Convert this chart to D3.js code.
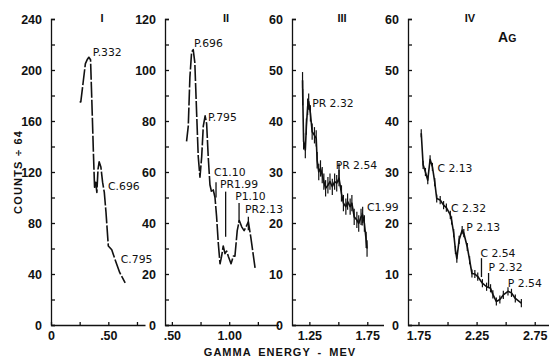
<!DOCTYPE html>
<html><head><meta charset="utf-8">
<script src="https://cdn.jsdelivr.net/npm/d3@7"></script>
<style>
body{margin:0;background:#fff;}
svg{display:block;}
</style></head>
<body>
<svg id="c" width="549" height="358"></svg>
<script>
// ---------- DATA ----------
const titles = ["I", "II", "III", "IV"];

// Panel I  (energy MeV, counts/64)
const energyI = [0.25,0.26,0.28,0.30,0.315,0.33,0.345,0.36,0.37,0.38,0.39,0.40,0.41,0.42,0.435,0.45,0.465,0.48,0.50,0.53,0.56,0.60,0.647];
const countsI = [175,175,190,205,208,210,208,165,135,108,112,104,122,128,124,112,104,88,62,59,51,41,33];

// Panel II
const energyII = [0.628,0.643,0.657,0.672,0.686,0.70,0.716,0.73,0.745,0.76,0.774,0.79,0.803,0.817,0.832,0.847,0.861,0.876,0.89,0.905,0.92,0.934,0.948,0.963,0.978,0.992,1.016,1.036,1.05,1.07,1.088,1.109,1.13,1.147,1.167,1.188,1.226];
const countsII = [72,78,97,107,108,103,83,66,58,66,78,82,79,66,55,52,53,50,42.5,32,24,27,31,28,29,27,24,27,27,37,41,38.5,37,38.5,40.5,34.6,22.2];

// Panel III
const energyIII = [1.191,1.193,1.20,1.215,1.224,1.235,1.244,1.259,1.274,1.294,1.309,1.317,1.331,1.346,1.361,1.375,1.39,1.41,1.428,1.448,1.468,1.486,1.506,1.527,1.544,1.565,1.58,1.602,1.617,1.637,1.66,1.676,1.696,1.71,1.725,1.74,1.748];
const countsIII = [48,44.7,36,34.3,38.9,42.8,43.8,41.5,37.9,37.2,36.6,32.3,30,30.7,29.4,28.1,26.8,27.4,28.1,27.1,28.1,27.8,28.8,25.8,23.9,23.2,24.2,23.2,23.9,21.2,20.6,19.9,21.2,21.6,19.9,16.7,15];
const errIII = 1.6;

// Panel IV
const energyIV = [1.774,1.79,1.81,1.83,1.85,1.87,1.89,1.907,1.937,1.966,1.99,2.024,2.035,2.053,2.068,2.08,2.10,2.126,2.14,2.17,2.19,2.21,2.235,2.26,2.30,2.336,2.37,2.39,2.42,2.45,2.48,2.52,2.55,2.583,2.635];
const countsIV = [37.6,31.4,30,28.4,32.5,31,28,24.8,24.5,23.5,23,21.6,20.5,18,14.7,13,16.7,18.6,18,15.3,12.7,10.1,10,9.5,8.2,7.5,7.2,6,4.6,5,5.9,6.6,6.3,5.2,4.3];
const errIV = 0.8;

// Axis ticks / tick labels
const yMaxes   = [240, 120, 60, 60];
const yMinorSteps = [20, 10, 5, 5];
const yLabelSteps = [40, 20, 10, 10];
const xTickValues = [[0,0.25,0.5,0.75],[0.5,0.75,1.0,1.25],[1.25,1.5,1.75],[1.75,2.0,2.25,2.5,2.75]];
const xTickLabels = [["0","",".50",""],[".50","","1.00",""],["1.25","","1.75"],["1.75","","2.25","","2.75"]];
const xDomains = [[0,0.82],[0.44,1.43],[1.10,1.89],[1.66,2.89]];

// Peak annotations: [panel, text, energy, counts]
const annotText   = ["P.332","C.696","C.795","P.696","P.795","C1.10","PR1.99","P1.10","PR2.13","PR 2.32","PR 2.54","C1.99","C 2.13","C 2.32","P 2.13","C 2.54","P 2.32","P 2.54"];
const annotPanel  = [0,0,0,1,1,1,1,1,1,2,2,2,3,3,3,3,3,3];
const annotEnergy = [0.365,0.498,0.609,0.692,0.815,0.867,0.92,1.052,1.138,1.274,1.477,1.748,1.913,2.03,2.161,2.283,2.353,2.519];
const annotCounts = [214,109,52,110.7,81.7,59.8,55.2,50.6,45.4,43.5,31.4,23.2,30.7,22.9,19.1,14.1,11.4,8.3];
// Leader lines: [panel, energy, countsTop, countsBottom]
const leaderPanel  = [1,1,1,1,2,2,3,3];
const leaderEnergy = [0.885,0.969,1.086,1.167,1.506,1.706,2.292,2.353];
const leaderTop    = [56,52.3,47.8,42.5,31.7,22.0,13.1,10.2];
const leaderBottom = [50,34.6,40,37.2,28,19.5,9.4,7.3];

// ---------- LAYOUT ----------
const panelRanges = [[51,145],[165,278.5],[292,383.5],[408,551]];
const yBottom = 325, yTop = 19;

const svg = d3.select("#c");
const tickFont = "'Liberation Sans', Arial, sans-serif";
const labelFont = "'DejaVu Sans', sans-serif";

const series = [
  {e: energyI, c: countsI, err: 0, dash: "16 2"},
  {e: energyII, c: countsII, err: 0, dash: "16 2"},
  {e: energyIII, c: countsIII, err: errIII, dash: null},
  {e: energyIV, c: countsIV, err: errIV, dash: null}
];

const scales = [];
for (let p = 0; p < 4; p++) {
  const x = d3.scaleLinear().domain(xDomains[p]).range(panelRanges[p]);
  const y = d3.scaleLinear().domain([0, yMaxes[p]]).range([yBottom, yTop]);
  scales.push({x, y});
  const g = svg.append("g");

  // y axis
  const yAxis = d3.axisLeft(y)
    .tickValues(d3.range(0, yMaxes[p] + 0.001, yMinorSteps[p]))
    .tickSizeInner(-4).tickSizeOuter(-4).tickPadding(9)
    .tickFormat(d => (Math.abs(d % yLabelSteps[p]) < 1e-6) ? d3.format("d")(d) : "");
  const ya = g.append("g").attr("transform", `translate(${panelRanges[p][0]},0)`).call(yAxis);
  ya.selectAll("path,line").attr("stroke", "#111").attr("stroke-width", 1.3);
  ya.selectAll("text").attr("font-family", tickFont).attr("font-weight", "bold")
    .attr("font-size", 12.5).attr("fill", "#111");

  // x axis
  const xAxis = d3.axisBottom(x)
    .tickValues(xTickValues[p]).tickSizeInner(-3).tickSizeOuter(0).tickPadding(6)
    .tickFormat((d, i) => xTickLabels[p][i]);
  const xa = g.append("g").attr("transform", `translate(0,${yBottom})`).call(xAxis);
  xa.selectAll("path,line").attr("stroke", "#111").attr("stroke-width", 1.3);
  xa.selectAll("text").attr("font-family", tickFont).attr("font-weight", "bold")
    .attr("font-size", 12.5).attr("fill", "#111");

  // title
  g.append("text").attr("x", (p === 0 ? 102 : p === 1 ? 226 : p === 2 ? 342 : 470))
    .attr("y", 18).attr("dy", "0.35em").attr("text-anchor", "middle")
    .attr("font-family", tickFont).attr("font-weight", "bold").attr("font-size", 11)
    .attr("fill", "#111").text(titles[p]);

  // data line
  const s = series[p];
  const pts = s.e.map((e, i) => [e, s.c[i]]);
  const line = d3.line().x(d => x(d[0])).y(d => y(d[1]));
  const path = g.append("path").datum(pts).attr("d", line)
    .attr("fill", "none").attr("stroke", "#111").attr("stroke-width", 1.6)
    .attr("stroke-linejoin", "round");
  if (s.dash) path.attr("stroke-dasharray", s.dash);
  if (s.err > 0) {
    g.selectAll(null).data(pts).join("line")
      .attr("x1", d => x(d[0])).attr("x2", d => x(d[0]))
      .attr("y1", d => y(d[1] - s.err)).attr("y2", d => y(d[1] + s.err))
      .attr("stroke", "#111").attr("stroke-width", 1.2);
  }
}

// annotations
annotText.forEach((t, i) => {
  const sc = scales[annotPanel[i]];
  svg.append("text").attr("x", sc.x(annotEnergy[i])).attr("y", sc.y(annotCounts[i]))
    .attr("dy", "0.36em").attr("font-family", labelFont).attr("font-size", 10.8)
    .attr("fill", "#111").text(t);
});
leaderPanel.forEach((p, i) => {
  const sc = scales[p];
  svg.append("line").attr("x1", sc.x(leaderEnergy[i])).attr("x2", sc.x(leaderEnergy[i]))
    .attr("y1", sc.y(leaderTop[i])).attr("y2", sc.y(leaderBottom[i]))
    .attr("stroke", "#111").attr("stroke-width", 1.3);
});

// Ag label
const ag = svg.append("text").attr("x", 498).attr("y", 42)
  .attr("font-family", tickFont).attr("font-weight", "bold").attr("fill", "#111");
ag.append("tspan").attr("font-size", 14).text("A");
ag.append("tspan").attr("font-size", 10.5).text("G");

// axis titles
svg.append("text").attr("transform", "translate(18,172) rotate(-90)")
  .attr("text-anchor", "middle").attr("dy", "0.35em")
  .attr("font-family", tickFont).attr("font-weight", "bold").attr("font-size", 11)
  .attr("letter-spacing", 1.2).attr("fill", "#111").text("COUNTS ÷ 64");
svg.append("text").attr("x", 280).attr("y", 352).attr("dy", "0.35em")
  .attr("text-anchor", "middle")
  .attr("font-family", tickFont).attr("font-weight", "bold").attr("font-size", 11)
  .attr("letter-spacing", 1).attr("word-spacing", 3).attr("fill", "#111")
  .text("GAMMA ENERGY - MEV");
</script>
</body></html>
